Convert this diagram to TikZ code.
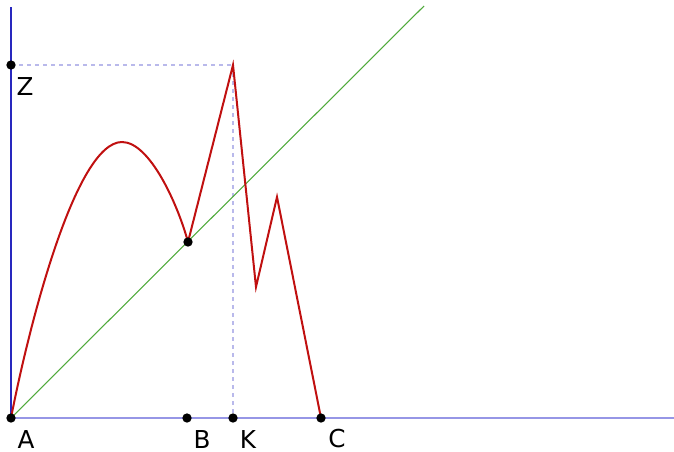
\documentclass[tikz,border=0pt]{standalone}
\usepackage{fontspec}
\setmainfont{DejaVu Sans}
\usetikzlibrary{positioning}

\definecolor{curvered}{RGB}{192,16,16}
\definecolor{diaggreen}{RGB}{80,170,60}
\definecolor{yaxisblue}{RGB}{40,40,190}
\definecolor{xaxisblue}{RGB}{150,150,230}
\definecolor{guidelilac}{RGB}{185,185,235}

\begin{document}
\begin{tikzpicture}[
        x=0.75pt, y=-0.75pt,
        dot/.style={circle, fill=black, inner sep=0pt, minimum size=7pt},
        lbl/.style={font=\fontsize{18.5}{20}\selectfont, inner sep=0pt},
        curve/.style={draw=curvered, line width=1.5pt, line join=miter},
        diag/.style={draw=diaggreen, line width=0.8pt},
        guide/.style={draw=guidelilac, dashed, line width=0.8pt},
    ]
        \useasboundingbox (0,0) rectangle (674,451);

        % points
        \coordinate (A) at (11,418);
        \coordinate (B) at (187,418);
        \coordinate (K) at (233,418);
        \coordinate (C) at (321,418);
        \coordinate (Z) at (11,65);
        \coordinate (top) at (233,65);
        \coordinate (hump) at (122,142);
        \coordinate (fix) at (188,242);
        \coordinate (dip) at (256,287);
        \coordinate (bump) at (277,197);
        \coordinate (xend) at (674,418);
        \coordinate (yend) at (11,7);
        \coordinate (dend) at (424,6);

        % axes
        \draw[xaxisblue, line width=1.5pt] (A) -- (xend);
        \draw[yaxisblue, line width=1pt] (A) -- (yend);

        % guides
        \draw[guide] (Z) -- (top);
        \draw[guide] (top) -- (K);

        % diagonal
        \draw[diag] (A) -- (dend);

        % map
        \draw[curve] (A) .. controls (28,330) and (75,142) .. (hump)
            .. controls (150,142) and (178,205) .. (fix);
        \draw[curve] (fix) -- (top) -- (dip) -- (bump) -- (C);

        % dots
        \foreach \p in {A, B, K, C, Z, fix}
            \node[dot] at (\p) {};

        % labels
        \node[lbl] (lA) at (26,439) {A};
        \node[lbl] (lB) at (202,439) {B};
        \node[lbl] (lK) at (248,439) {K};
        \node[lbl] (lC) at (337,439) {C};
        \node[lbl] (lZ) at (25,87) {Z};
    \end{tikzpicture}
\end{document}
